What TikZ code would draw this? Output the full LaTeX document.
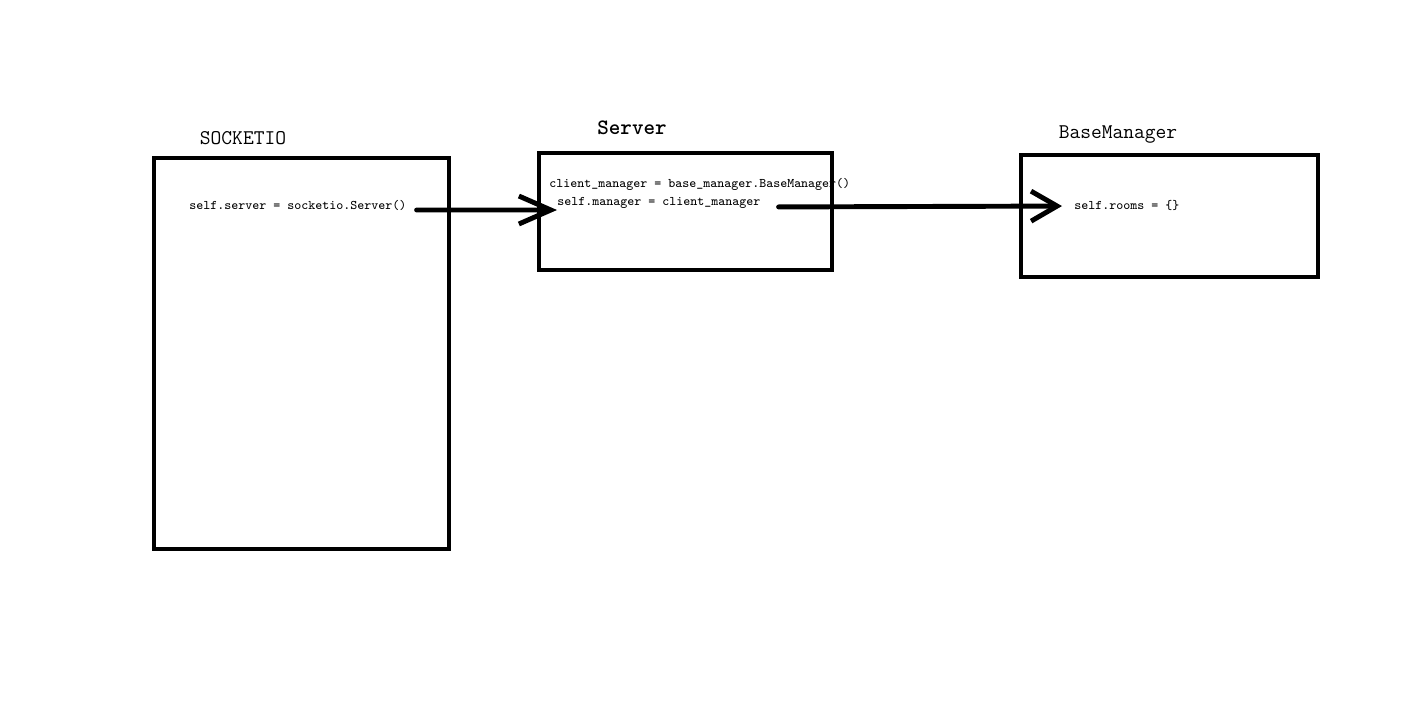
\documentclass[tikz,border=0pt]{standalone}
\usepackage{fontspec}
\usetikzlibrary{arrows.meta,positioning}

\begin{document}
\begin{tikzpicture}[
  x=0.02cm,y=-0.02cm,
  box/.style={draw=black,line width=2.3pt,minimum width=5.9cm,inner sep=0pt},
  title/.style={font=\fontsize{11.9}{14}\selectfont\ttfamily,inner sep=0pt},
  code/.style={font=\fontsize{7.5}{9}\selectfont\ttfamily,inner sep=0pt,anchor=west},
  arr/.style={-{Straight Barb[length=5.2mm,width=6mm]},line width=2.8pt,line cap=round}]

\useasboundingbox (0,0) rectangle (1428,701);

\node[box,minimum height=7.82cm] (sio) at (301.5,353.5) {};
\node[box,minimum width=5.86cm,minimum height=2.34cm] (srv) at (685.5,211.5) {};
\node[box,minimum width=5.94cm,minimum height=2.44cm] (bm) at (1169.5,216) {};

\node[title] (siot) at (243,138) {SOCKETIO};
\node[title,font=\fontsize{12.5}{14}\selectfont\ttfamily\bfseries] (srvt) at (632,128) {Server};
\node[title] (bmt) at (1118,134) {BaseManager};

\node[code] (call)  at (189,205) {self.server = socketio.Server()};
\node[code] (cmgr)  at (549,184) {client\_manager = base\_manager.BaseManager()};
\node[code] (mgr)   at (557,203) {self.manager = client\_manager};
\node[code] (rooms) at (1074,205) {self.rooms = \{\}};

\draw[arr,-{Straight Barb[length=6.4mm,width=5.6mm]},shorten <=0.2cm]
  ([yshift=-0.1cm]call.east) -- ([yshift=-0.14cm]mgr.west);
\draw[arr,shorten <=0.36cm,shorten >=0.24cm]
  ([yshift=-0.08cm]mgr.east) -- ([yshift=-0.02cm]rooms.west);
\end{tikzpicture}
\end{document}
